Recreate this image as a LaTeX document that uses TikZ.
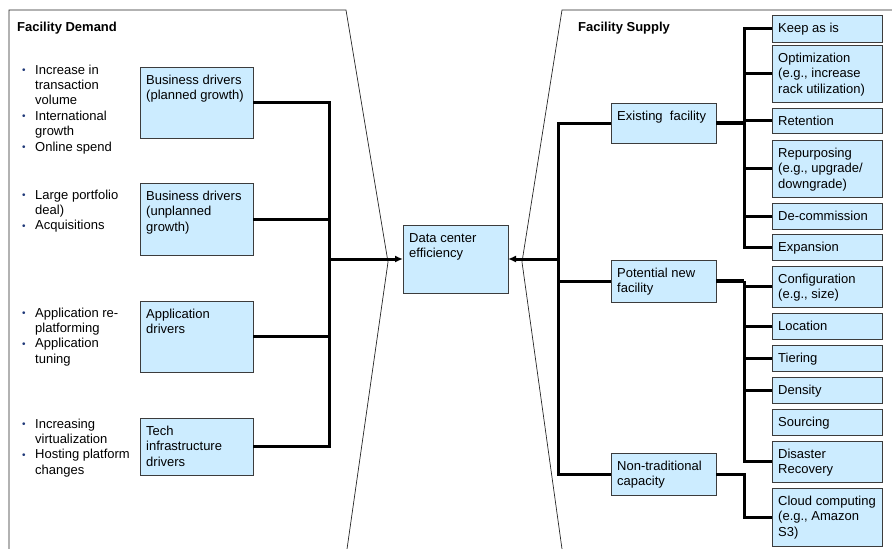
\documentclass[tikz,border=0pt]{standalone}
\usepackage{fontspec}
\setmainfont{Liberation Sans}
\usetikzlibrary{arrows.meta}
\definecolor{boxfill}{RGB}{204,236,255}
\definecolor{boxline}{RGB}{60,60,60}
\definecolor{bulcol}{RGB}{31,56,120}
\newcommand\tb[1]{\parbox[t]{200pt}{\raggedright #1}}
\newcommand\bl[1]{\par\noindent\hangindent=13pt\hangafter=1\makebox[13pt][l]{\raisebox{0.5pt}{\textcolor{bulcol}{\fontsize{10}{10}\selectfont •}}}#1}
\newcommand\mybox[6]{%
  \node[box, minimum width=#4pt, minimum height=#5pt] (#1) at (#2,#3) {};
  \node[lbl] (#1t) at (#2+6,#3+17.5) {\tb{#6}};}
\begin{document}
\begin{tikzpicture}[x=1pt,y=-1pt,
  box/.style={draw=boxline, fill=boxfill, line width=0.9pt, inner sep=0pt, outer sep=0pt, anchor=north west},
  lbl/.style={inner sep=0pt, anchor=base west, font=\fontsize{13}{15.4}\selectfont},
  head/.style={inner sep=0pt, anchor=base west, font=\bfseries\fontsize{13}{15.4}\selectfont},
  conn/.style={line width=3pt, draw=black},
  thickconn/.style={line width=4pt, draw=black},
  panel/.style={line width=0.7pt, draw=black!85},
  tip/.style={-{Latex[length=8pt,width=7pt]}}]
\useasboundingbox (0,0) rectangle (892,549);

% panels
\draw[panel] (9,549) -- (9,10) -- (346,10) -- (388,262) -- (347,549);
\draw[panel] (892,10) -- (562,10) -- (522,262) -- (562,549);

\node[head] (hdL) at (17,31.5) {Facility Demand};
\node[head] (hdR) at (578,31.5) {Facility Supply};

% bullet groups
\node[lbl] (g1) at (22,74) {\tb{\bl{Increase in\newline transaction\newline volume}\bl{International\newline growth}\bl{Online spend}}};
\node[lbl] (g2) at (22,199) {\tb{\bl{Large portfolio\newline deal)}\bl{Acquisitions}}};
\node[lbl] (g3) at (22,317) {\tb{\bl{Application re-\newline platforming}\bl{Application\newline tuning}}};
\node[lbl] (g4) at (22,428) {\tb{\bl{Increasing\newline virtualization}\bl{Hosting platform\newline changes}}};

% left boxes
\mybox{L1}{140}{67}{113}{71}{Business drivers\\(planned growth)}
\mybox{L2}{140}{183}{113}{72}{Business drivers\\(unplanned\\growth)}
\mybox{L3}{140}{301}{113}{71}{Application\\drivers}
\mybox{L4}{140}{418}{113}{57}{Tech\\infrastructure\\drivers}

% centre
\mybox{DC}{403}{225}{105}{68}{Data center\\efficiency}

% right middle
\mybox{E}{611}{103}{105}{40}{Existing\ \ facility}
\mybox{P}{611}{260}{105}{42}{Potential new\\facility}
\mybox{N}{611}{453}{105}{42}{Non-traditional\\capacity}

% right column
\mybox{R1}{772}{15}{110}{27}{Keep as is}
\mybox{R2}{772}{45}{110}{57}{Optimization\\(e.g., increase\\rack utilization)}
\mybox{R3}{772}{108}{110}{25}{Retention}
\mybox{R4}{772}{140}{110}{57}{Repurposing\\(e.g., upgrade/\\downgrade)}
\mybox{R5}{772}{203}{110}{26}{De-commission}
\mybox{R6}{772}{234}{110}{26}{Expansion}
\mybox{R7}{772}{266}{110}{41}{Configuration\\(e.g., size)}
\mybox{R8}{772}{313}{110}{26}{Location}
\mybox{R9}{772}{345}{110}{26}{Tiering}
\mybox{R10}{772}{377}{110}{26}{Density}
\mybox{R11}{772}{409}{110}{26}{Sourcing}
\mybox{R12}{772}{441}{110}{41}{Disaster\\Recovery}
\mybox{R13}{772}{488}{110}{58}{Cloud computing\\(e.g., Amazon\\S3)}

% left bus
\coordinate (lb) at (329,0);
\draw[conn] (L1.east) -- (L1.east -| lb) -- (L4.east -| lb) -- (L4.east);
\draw[conn] (L2.east) -- (L2.east -| lb);
\draw[conn] (L3.east) -- (L3.east -| lb);
\draw[conn,tip] (DC.west -| lb) -- (DC.west);

% right bus
\coordinate (rb) at (558,0);
\draw[conn] (E.west) -- (E.west -| rb) -- (N.west -| rb) -- (N.west);
\draw[conn] (P.west) -- (P.west -| rb);
\draw[conn,tip] (DC.east -| rb) -- (DC.east);

% sub buses
\coordinate (sb) at (744,0);
\draw[thickconn] (E.east) -- (E.east -| sb);
\draw[conn] (R1.west) -- (R1.west -| sb) -- (R6.west -| sb) -- (R6.west);
\foreach \r in {R2,R3,R4,R5} \draw[conn] (\r.west -| sb) -- (\r.west);
\draw[thickconn] (P.east) -- (P.east -| sb);
\draw[conn] (P.east -| sb) -- (R12.west -| sb) -- (R12.west);
\foreach \r in {R7,R8,R9,R10} \draw[conn] (\r.west -| sb) -- (\r.west);
\draw[conn] (N.east) -- (N.east -| sb) -- (R13.west -| sb) -- (R13.west);
\end{tikzpicture}
\end{document}
